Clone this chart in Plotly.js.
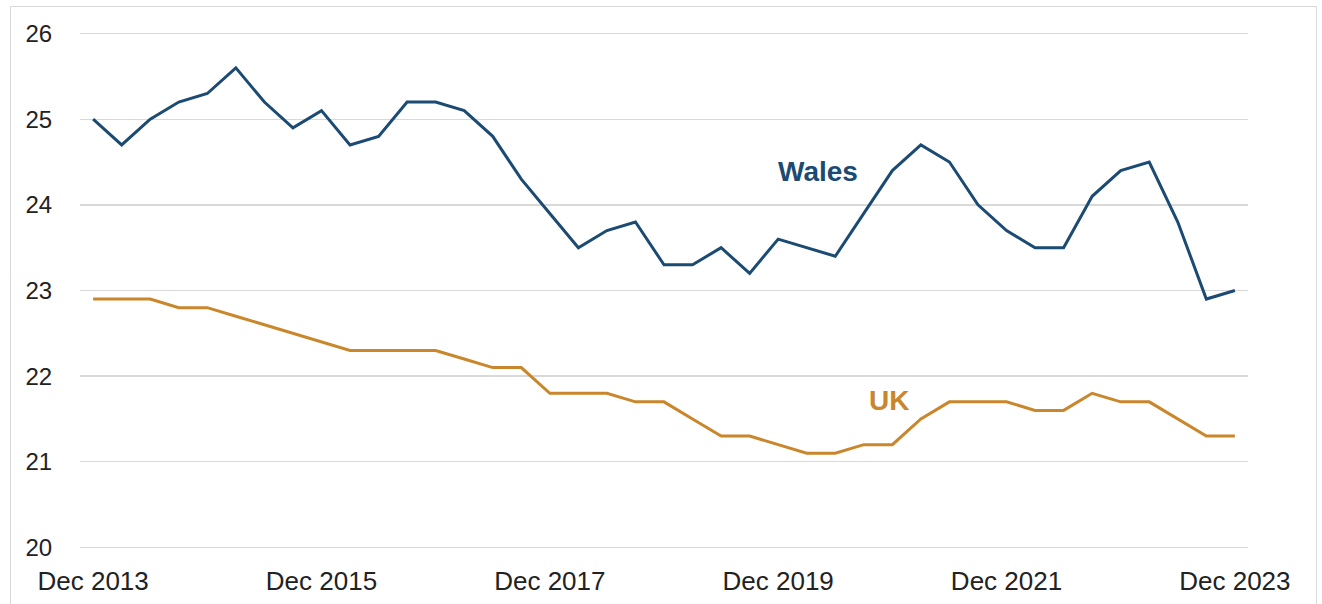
<!DOCTYPE html>
<html>
<head>
<meta charset="utf-8">
<script src="https://cdn.plot.ly/plotly-3.0.1.min.js"></script>
<style>
  html, body { margin: 0; padding: 0; background: #ffffff; }
  #wrap { position: relative; width: 1322px; height: 604px; overflow: hidden; }
  #frame { position: absolute; left: 10px; top: 6px; width: 1307px; height: 620px;
           border: 1px solid #d9d9d9; box-sizing: border-box; pointer-events: none; }
  #chart { position: absolute; left: 0; top: 0; width: 1322px; height: 604px; }
</style>
</head>
<body>
<div id="wrap">
  <div id="chart"></div>
  <div id="frame"></div>
</div>
<script>
// Quarterly periods, Dec 2013 .. Dec 2023
const periods = [
  "Dec 2013","Mar 2014","Jun 2014","Sep 2014","Dec 2014","Mar 2015","Jun 2015","Sep 2015",
  "Dec 2015","Mar 2016","Jun 2016","Sep 2016","Dec 2016","Mar 2017","Jun 2017","Sep 2017",
  "Dec 2017","Mar 2018","Jun 2018","Sep 2018","Dec 2018","Mar 2019","Jun 2019","Sep 2019",
  "Dec 2019","Mar 2020","Jun 2020","Sep 2020","Dec 2020","Mar 2021","Jun 2021","Sep 2021",
  "Dec 2021","Mar 2022","Jun 2022","Sep 2022","Dec 2022","Mar 2023","Jun 2023","Sep 2023",
  "Dec 2023"
];
const wales = [
  25.0, 24.7, 25.0, 25.2, 25.3, 25.6, 25.2, 24.9,
  25.1, 24.7, 24.8, 25.2, 25.2, 25.1, 24.8, 24.3,
  23.9, 23.5, 23.7, 23.8, 23.3, 23.3, 23.5, 23.2,
  23.6, 23.5, 23.4, 23.9, 24.4, 24.7, 24.5, 24.0,
  23.7, 23.5, 23.5, 24.1, 24.4, 24.5, 23.8, 22.9,
  23.0
];
const uk = [
  22.9, 22.9, 22.9, 22.8, 22.8, 22.7, 22.6, 22.5,
  22.4, 22.3, 22.3, 22.3, 22.3, 22.2, 22.1, 22.1,
  21.8, 21.8, 21.8, 21.7, 21.7, 21.5, 21.3, 21.3,
  21.2, 21.1, 21.1, 21.2, 21.2, 21.5, 21.7, 21.7,
  21.7, 21.6, 21.6, 21.8, 21.7, 21.7, 21.5, 21.3,
  21.3
];
const xTickLabels = ["Dec 2013","Dec 2015","Dec 2017","Dec 2019","Dec 2021","Dec 2023"];
const yTicks = [20, 21, 22, 23, 24, 25, 26];

const xIdx = periods.map((p, i) => i);
const xTickVals = xTickLabels.map(l => periods.indexOf(l));

const walesColor = "#1b4a72";
const ukColor = "#c9862b";
const fontFam = "Liberation Sans, Arial, sans-serif";

const traces = [
  { x: xIdx, y: wales, type: "scatter", mode: "lines", name: "Wales",
    text: periods, line: { color: walesColor, width: 3 } },
  { x: xIdx, y: uk, type: "scatter", mode: "lines", name: "UK",
    text: periods, line: { color: ukColor, width: 3 } }
];

const layout = {
  width: 1322, height: 604,
  margin: { l: 80, r: 74, t: 31, b: 54 },
  paper_bgcolor: "rgba(0,0,0,0)",
  plot_bgcolor: "#ffffff",
  showlegend: false,
  font: { family: fontFam, size: 22, color: "#222222" },
  xaxis: {
    range: [-0.46, 40.46],
    tickvals: xTickVals, ticktext: xTickLabels,
    showgrid: false, zeroline: false, showline: false,
    ticks: "outside", ticklen: 8, tickcolor: "rgba(0,0,0,0)",
    tickfont: { size: 26, color: "#222222" }
  },
  yaxis: {
    range: [19.97, 26.03],
    tickvals: yTicks,
    showgrid: true, gridcolor: "#d9d9d9", gridwidth: 1.3,
    zeroline: false, showline: false,
    ticks: "outside", ticklen: 22, tickcolor: "rgba(0,0,0,0)",
    tickfont: { size: 24, color: "#222222" }
  },
  annotations: [
    { x: 25.4, y: 24.39, xref: "x", yref: "y", text: "<b>Wales</b>", showarrow: false,
      font: { size: 28, color: walesColor, family: fontFam } },
    { x: 27.9, y: 21.71, xref: "x", yref: "y", text: "<b>UK</b>", showarrow: false,
      font: { size: 28, color: ukColor, family: fontFam } }
  ]
};

Plotly.newPlot("chart", traces, layout, { staticPlot: true, displayModeBar: false });
</script>
</body>
</html>
